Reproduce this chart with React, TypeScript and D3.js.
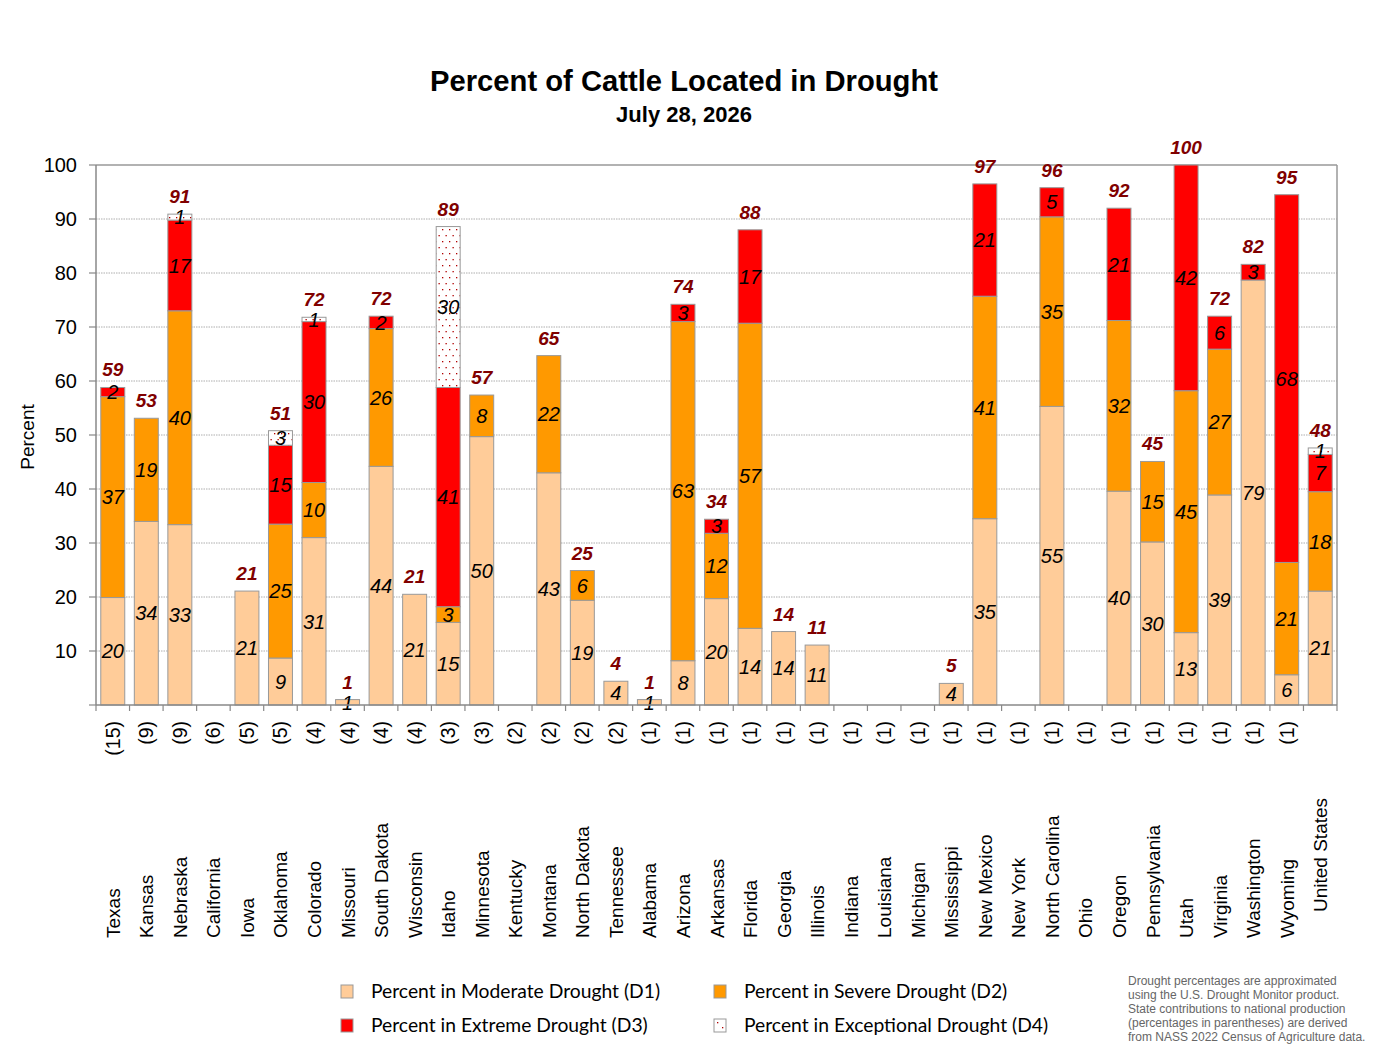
import React from "react";
import * as d3 from "d3";

const states = ["Texas","Kansas","Nebraska","California","Iowa","Oklahoma","Colorado","Missouri","South Dakota","Wisconsin","Idaho","Minnesota","Kentucky","Montana","North Dakota","Tennessee","Alabama","Arizona","Arkansas","Florida","Georgia","Illinois","Indiana","Louisiana","Michigan","Mississippi","New Mexico","New York","North Carolina","Ohio","Oregon","Pennsylvania","Utah","Virginia","Washington","Wyoming","United States"];
const shares = ["(15)","(9)","(9)","(6)","(5)","(5)","(4)","(4)","(4)","(4)","(3)","(3)","(2)","(2)","(2)","(2)","(1)","(1)","(1)","(1)","(1)","(1)","(1)","(1)","(1)","(1)","(1)","(1)","(1)","(1)","(1)","(1)","(1)","(1)","(1)","(1)",""];
const d1 = [19.9,34.0,33.4,0,21.1,8.7,31.0,1.0,44.2,20.5,15.3,49.7,0,43.0,19.4,4.4,1.0,8.2,19.7,14.2,13.6,11.1,0,0,0,4.0,34.5,0,55.3,0,39.6,30.2,13.4,38.9,78.7,5.6,21.1];
const d2 = [37.2,19.1,39.6,0,0,24.8,10.2,0,25.5,0,2.9,7.7,0,21.7,5.5,0,0,62.8,12.1,56.5,0,0,0,0,0,0,41.2,0,35.1,0,31.6,14.9,44.8,27.0,0,20.8,18.4];
const d3v = [1.7,0,16.8,0,0,14.6,29.8,0,2.3,0,40.6,0,0,0,0,0,0,3.2,2.6,17.3,0,0,0,0,0,0,20.8,0,5.4,0,20.8,0,41.8,6.1,2.9,68.1,6.9];
const d4 = [0,0,1.1,0,0,2.7,0.8,0,0,0,29.8,0,0,0,0,0,0,0,0,0,0,0,0,0,0,0,0,0,0,0,0,0,0,0,0,0,1.2];
const totals = ["59","53","91","","21","51","72","1","72","21","89","57","","65","25","4","1","74","34","88","14","11","","","","5","97","","96","","92","45","100","72","82","95","48"];
const yTicks = [10,20,30,40,50,60,70,80,90,100];
const seriesNames = ["Percent in Moderate Drought (D1)","Percent in Severe Drought (D2)","Percent in Extreme Drought (D3)","Percent in Exceptional Drought (D4)"];
const noteLines = ["Drought percentages  are approximated","using the U.S. Drought Monitor product.","State contributions  to national  production","(percentages  in parentheses)  are derived","from NASS 2022  Census  of Agriculture data."];

const colors = ["#FFCC99", "#FF9900", "#FF0000", "url(#d4pat)"];

export default function App() {
  const W = 1400, H = 1062;
  const left = 96, right = 1337, top = 165, bottom = 705;
  const x = d3.scaleBand<string>().domain(states).range([left, right]).paddingInner(0.285).paddingOuter(0.1425);
  const y = d3.scaleLinear().domain([0, 100]).range([bottom, top]);
  const step = x.step();
  const seriesArr = [d1, d2, d3v, d4];
  const rows = states.map((s, i) => ({ state: s, v0: d1[i], v1: d2[i], v2: d3v[i], v3: d4[i] }));
  const stack = d3.stack<any>().keys(["v0", "v1", "v2", "v3"])(rows);
  const bw = x.bandwidth();
  const font = "Arial, 'Liberation Sans', sans-serif";

  return (
    <svg width={W} height={H} style={{ position: "absolute", left: 0, top: 0 }} fontFamily={font}>
      <defs>
        <pattern id="d4pat" width="7" height="12" patternUnits="userSpaceOnUse">
          <rect width="7" height="12" fill="#fff" />
          <rect x="1" y="1" width="1.3" height="1.3" fill="#B00000" />
          <rect x="4.5" y="7" width="1.3" height="1.3" fill="#B00000" />
        </pattern>
      </defs>
      <rect width={W} height={H} fill="#fff" />
      <text x={684} y={91} textAnchor="middle" fontWeight="bold" fontSize={29} textLength={508} lengthAdjust="spacingAndGlyphs">Percent of Cattle Located in Drought</text>
      <text x={684} y={122} textAnchor="middle" fontWeight="bold" fontSize={22}>July 28, 2026</text>

      {/* gridlines */}
      {yTicks.filter(t => t < 100).map(t => (
        <line key={"g" + t} x1={left} x2={right} y1={y(t)} y2={y(t)} stroke="#999" strokeWidth={0.8} strokeDasharray="1.5,1" />
      ))}
      <line x1={left} x2={right} y1={y(100)} y2={y(100)} stroke="#999" strokeWidth={1.5} />
      <line x1={right} x2={right} y1={y(100)} y2={bottom} stroke="#999" strokeWidth={1.5} />

      {/* bars */}
      {stack.map((layer, li) => (
        <g key={"l" + li}>
          {layer.map((d: any, i: number) => {
            const h = y(d[0]) - y(d[1]);
            if (h <= 0) return null;
            return (
              <rect key={i} x={x(states[i])} y={y(d[1])} width={bw} height={h} fill={colors[li]} stroke="#999" strokeWidth={1} />
            );
          })}
        </g>
      ))}

      {/* segment labels */}
      {stack.map((layer, li) => (
        <g key={"t" + li}>
          {layer.map((d: any, i: number) => {
            const v = seriesArr[li][i];
            const r = Math.round(v);
            if (r <= 0) return null;
            return (
              <text key={i} x={(x(states[i]) as number) + bw / 2} y={y((d[0] + d[1]) / 2)} dy="0.36em" textAnchor="middle" fontStyle="italic" fontSize={20} fill="#000">{r}</text>
            );
          })}
        </g>
      ))}

      {/* total labels */}
      {stack[3].map((d: any, i: number) => (
        totals[i] ? (
          <text key={"tot" + i} x={(x(states[i]) as number) + bw / 2} y={y(d[1]) - 11} textAnchor="middle" fontStyle="italic" fontWeight="bold" fontSize={19} fill="#800000">{totals[i]}</text>
        ) : null
      ))}

      {/* axes */}
      <line x1={left} x2={left} y1={y(100)} y2={bottom} stroke="#888" strokeWidth={1.5} />
      <line x1={left} x2={right} y1={bottom} y2={bottom} stroke="#888" strokeWidth={1.5} />
      {yTicks.map(t => (
        <g key={"yt" + t}>
          <line x1={left - 7} x2={left} y1={y(t)} y2={y(t)} stroke="#888" strokeWidth={1.2} />
          <text x={77} y={y(t)} dy="0.36em" textAnchor="end" fontSize={20}>{t}</text>
        </g>
      ))}
      <line x1={left - 7} x2={left} y1={bottom} y2={bottom} stroke="#888" strokeWidth={1.2} />
      {states.map((s, i) => {
        const bx = (x(s) as number) - step * 0.1425;
        return <line key={"xt" + i} x1={bx} x2={bx} y1={bottom} y2={bottom + 6} stroke="#888" strokeWidth={1.2} />;
      })}
      <line x1={right} x2={right} y1={bottom} y2={bottom + 6} stroke="#888" strokeWidth={1.2} />

      {states.map((s, i) => {
        const cx = (x(s) as number) + bw / 2;
        const by = shares[i] ? 938 : 912;
        return (
          <g key={"xl" + i}>
            {shares[i] && (
              <text transform={`translate(${cx + 7},721) rotate(-90)`} textAnchor="end" fontSize={19.5}>{shares[i]}</text>
            )}
            <text transform={`translate(${cx + 7},${by}) rotate(-90)`} textAnchor="start" fontSize={19}>{s}</text>
          </g>
        );
      })}

      <text transform="translate(34,437) rotate(-90)" textAnchor="middle" fontSize={19}>Percent</text>

      {/* legend */}
      {seriesNames.map((n, i) => {
        const lx = i % 2 === 0 ? 341 : 714;
        const ly = i < 2 ? 985 : 1019;
        return (
          <g key={"lg" + i}>
            <rect x={lx} y={ly} width={12} height={13} fill={i === 3 ? "#fff" : colors[i]} stroke="#999" strokeWidth={1} />
            {i === 3 && <rect x={lx + 3} y={ly + 3} width={1.3} height={1.3} fill="#B00000" />}
            {i === 3 && <rect x={lx + 8} y={ly + 8} width={1.3} height={1.3} fill="#B00000" />}
            <text x={lx + 30} y={ly + 13} fontSize={19.3} fontFamily="Lato, 'Open Sans', sans-serif">{n}</text>
          </g>
        );
      })}

      {noteLines.map((l, i) => (
        <text key={"n" + i} x={1128} y={985 + i * 14} fontSize={12} fill="#666" fontFamily="'Liberation Sans Narrow', Arial, sans-serif">{l}</text>
      ))}
    </svg>
  );
}
